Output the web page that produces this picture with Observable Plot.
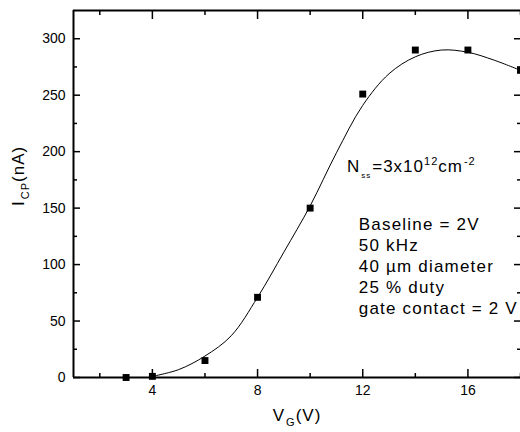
<!DOCTYPE html>
<html><head><meta charset="utf-8">
<script src="https://cdn.jsdelivr.net/npm/d3@7"></script>
<script src="https://cdn.jsdelivr.net/npm/@observablehq/plot@0.6"></script>
<style>body{margin:0;background:#fff}</style>
</head><body><div id="chart"></div>
<script>
// measured points
const vg  = [3, 4, 6, 8, 10, 12, 14, 16, 18];
const icp = [0, 1, 15, 71, 150, 251, 290, 290, 272];
// fitted curve
const fitVg  = [4, 5, 6, 7, 8, 9, 10, 11, 12, 13, 14, 15, 16, 17, 18];
const fitIcp = [1, 7, 19, 37, 71, 111, 152, 199, 241, 269, 284, 290, 288, 281, 272];
// ticks
const xMajor = [4, 8, 12, 16];
const xMinor = [2, 6, 10, 14, 18];
const yMajor = [0, 50, 100, 150, 200, 250, 300];
const yMinor = [25, 75, 125, 175, 225, 275];
const xDomain = [1, 18];
const yDomain = [0, 325];
// texts
const xLabel = "VG(V)";
const yLabel = "ICP(nA)";
const nssText = "Nss=3x1012cm-2";
const notes = ["Baseline = 2V", "50 kHz", "40 \u00b5m diameter", "25 % duty", "gate contact = 2 V"];

const points = vg.map((x, i) => ({x, y: icp[i]}));
const fit = fitVg.map((x, i) => ({x, y: fitIcp[i]}));

const font = "'Liberation Sans', Arial, sans-serif";
const empty = () => "";
const tick = {tickFormat: empty, strokeWidth: 1.5, label: null};

const chart = Plot.plot({
  width: 520, height: 432,
  marginLeft: 73, marginRight: 0, marginTop: 10, marginBottom: 55,
  style: {fontFamily: font, color: "#000", background: "#fff"},
  x: {domain: xDomain, axis: null},
  y: {domain: yDomain, axis: null},
  marks: [
    // frame lines (left, bottom, top)
    Plot.ruleX([xDomain[0]], {strokeWidth: 2}),
    Plot.ruleY([yDomain[0], yDomain[1]], {strokeWidth: 2}),
    // left axis
    Plot.axisY({anchor: "left", ticks: yMajor, tickSize: 0, tickPadding: 8, fontSize: 14, label: null}),
    Plot.axisY({anchor: "left", ticks: yMajor, tickSize: 7, dx: 7, ...tick}),
    Plot.axisY({anchor: "left", ticks: yMinor, tickSize: 4, dx: 4, ...tick}),
    // right axis ticks (inward)
    Plot.axisY({anchor: "right", ticks: yMajor, tickSize: 7, dx: -7, ...tick}),
    Plot.axisY({anchor: "right", ticks: yMinor, tickSize: 4, dx: -4, ...tick}),
    // bottom axis
    Plot.axisX({anchor: "bottom", ticks: xMajor, tickSize: 0, tickPadding: 8, fontSize: 14, label: null}),
    Plot.axisX({anchor: "bottom", ticks: xMajor, tickSize: 8, dy: -8, ...tick}),
    Plot.axisX({anchor: "bottom", ticks: xMinor, tickSize: 4, dy: -4, ...tick}),
    // top axis ticks (inward)
    Plot.axisX({anchor: "top", ticks: xMajor, tickSize: 8, dy: 8, ...tick}),
    Plot.axisX({anchor: "top", ticks: xMinor, tickSize: 4, dy: 4, ...tick}),
    // curve and data
    Plot.line(fit, {x: "x", y: "y", curve: "catmull-rom", stroke: "#000", strokeWidth: 1}),
    Plot.dot(points, {x: "x", y: "y", symbol: "square", r: 3.9, fill: "#000", stroke: "none"}),
    // annotations
    Plot.text([nssText], {x: 11.4, y: 187, text: d => d, textAnchor: "start", lineAnchor: "middle", fontSize: 17}),
    Plot.text([notes.join("\n")], {x: 11.85, y: 144, text: d => d, textAnchor: "start", lineAnchor: "top", lineHeight: 1.24, fontSize: 17}),
    // axis labels
    Plot.text([xLabel], {frameAnchor: "bottom", dy: 38, text: d => d, lineAnchor: "middle", fontSize: 17}),
    Plot.text([yLabel], {frameAnchor: "left", dx: -55, dy: 12, rotate: -90, text: d => d, lineAnchor: "middle", fontSize: 17})
  ]
});

// parts: [text, baseline shift (down +), font size or null, dx]
function richify(svg, plain, parts, spacing) {
  for (const t of svg.querySelectorAll("text")) {
    if (t.textContent !== plain) continue;
    t.textContent = "";
    t.setAttribute("letter-spacing", spacing);
    let shift = 0;
    for (const [s, target, size, gap] of parts) {
      const ts = document.createElementNS("http://www.w3.org/2000/svg", "tspan");
      ts.setAttribute("dy", target - shift);
      shift = target;
      if (size) ts.setAttribute("font-size", size);
      if (gap) ts.setAttribute("dx", gap);
      ts.textContent = s;
      t.appendChild(ts);
    }
  }
}
richify(chart, nssText, [["N", 0], ["ss", 6, 8, 1], ["=3x10", 0, null, 1], ["12", -7, 11], ["cm", 0], ["-2", -7, 11, 1]], 1);
richify(chart, xLabel, [["V", 0], ["G", 5, 11, 1], ["(V)", 0]], 1);
richify(chart, yLabel, [["I", 0], ["CP", 5, 11, 1], ["(nA)", 0]], 1);
for (const t of chart.querySelectorAll("text")) {
  if (t.textContent.startsWith(notes[0])) t.setAttribute("letter-spacing", 1.2);
}

document.getElementById("chart").append(chart);
</script>
</body></html>
